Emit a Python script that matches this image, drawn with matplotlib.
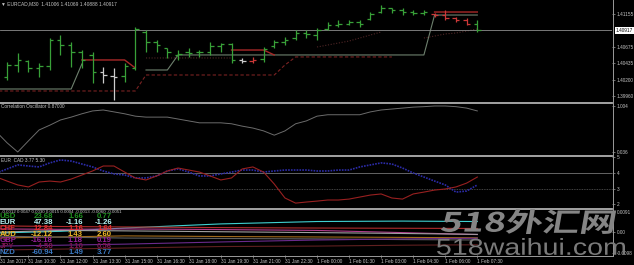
import numpy as np
import matplotlib
matplotlib.use('Agg')
import matplotlib.pyplot as plt
from matplotlib.lines import Line2D
from matplotlib.textpath import TextPath
from matplotlib.patches import PathPatch
from matplotlib.font_manager import FontProperties
from matplotlib.transforms import Affine2D, blended_transform_factory

plt.rcParams['font.family'] = ['Liberation Sans', 'DejaVu Sans']

# -- data (EURCAD M30) -- #
nan = np.nan
opens  = [1.40237, 1.40412, 1.40470, 1.40368, 1.40397, 1.40776, 1.40703, 1.40601, 1.40558, 1.40310,
          1.40252, 1.40252, 1.40368, 1.40893, 1.40747, 1.40660, 1.40558, 1.40601, 1.40601, 1.40601,
          1.40689, 1.40718, 1.40485, 1.40470, 1.40499, 1.40689, 1.40747, 1.40805, 1.40878, 1.40849,
          1.40937, 1.40995, 1.41009, 1.41038, 1.41082, 1.41184, 1.41242, 1.41213, 1.41184, 1.41170,
          1.41155, 1.41140, 1.41097, 1.41068, 1.41006]
highs  = [1.40456, 1.40587, 1.40485, 1.40441, 1.40805, 1.40849, 1.40747, 1.40630, 1.40601, 1.40383,
          1.40368, 1.40441, 1.40966, 1.40922, 1.40776, 1.40660, 1.40630, 1.40660, 1.40630, 1.40747,
          1.40732, 1.40732, 1.40514, 1.40529, 1.40674, 1.40776, 1.40820, 1.40922, 1.40922, 1.40951,
          1.41038, 1.41068, 1.41068, 1.41068, 1.41184, 1.41286, 1.41242, 1.41242, 1.41213, 1.41213,
          1.41170, 1.41213, 1.41111, 1.41097, 1.41069]
lows   = [1.40193, 1.40310, 1.40310, 1.40237, 1.40339, 1.40558, 1.40383, 1.40368, 1.40150, 1.40150,
          1.39902, 1.40164, 1.40339, 1.40601, 1.40601, 1.40514, 1.40485, 1.40529, 1.40529, 1.40558,
          1.40601, 1.40441, 1.40441, 1.40441, 1.40456, 1.40660, 1.40703, 1.40776, 1.40805, 1.40776,
          1.40922, 1.40966, 1.40995, 1.40966, 1.41068, 1.41170, 1.41170, 1.41140, 1.41140, 1.41140,
          1.41111, 1.41068, 1.41038, 1.40995, 1.40888]
closes = [1.40412, 1.40485, 1.40368, 1.40397, 1.40776, 1.40703, 1.40601, 1.40485, 1.40310, 1.40266,
          1.40237, 1.40397, 1.40937, 1.40747, 1.40703, 1.40601, 1.40572, 1.40587, 1.40601, 1.40689,
          1.40718, 1.40485, 1.40470, 1.40485, 1.40645, 1.40747, 1.40776, 1.40878, 1.40864, 1.40922,
          1.40995, 1.41009, 1.41038, 1.41009, 1.41155, 1.41242, 1.41213, 1.41184, 1.41170, 1.41184,
          1.41140, 1.41097, 1.41068, 1.41009, 1.40917]
bar_color = ['g'] * 9 + ['w', 'w'] + ['g'] * 11 + ['w', 'r'] + ['g'] * 16 + ['r', 'r', 'r', 'r', 'g']
bid = 1.40917

# indicator lines, bars -1..44
line_idx = list(range(-1, 45))
support = [1.40062] * 8 + [1.40427] + [nan] * 5 + [1.40339] * 3 + [1.40558] * 24 + [1.41140] * 5
resist  = [nan] * 8 + [1.40485] * 5 + [1.40368] + [nan] * 8 + [1.40630] * 4 + [1.40558] + [nan] * 14 + [1.41184] * 5
band_lo = [1.40033] * 14 + [1.40266] * 13 + [1.40412] + [1.40529] * 10 + [nan] * 8
band_dot = ([nan] * 14 + [1.40514] * 9 + [nan] * 7 +
            [1.40674, 1.40703, 1.40732, 1.40761, 1.40805, 1.40849, 1.40893] + [nan] * 3 +
            [1.40805, 1.40834, 1.40864, 1.40878, 1.40907, 1.40937])

corr = [0.46, 0.23, 0.036, 0.27, 0.50, 0.60, 0.71, 0.77, 0.84, 0.90, 0.92, 0.88, 0.84, 0.79, 0.77, 0.77,
        0.77, 0.73, 0.69, 0.65, 0.65, 0.65, 0.63, 0.58, 0.54, 0.48, 0.39, 0.48, 0.63, 0.69, 0.79, 0.82,
        0.82, 0.82, 0.82, 0.88, 0.92, 0.94, 0.96, 0.98, 0.99, 1.004, 1.004, 0.99, 0.96, 0.90]

eur_str = [4.00, 4.26, 4.52, 4.45, 4.39, 4.65, 4.84, 4.77, 4.58, 4.39, 4.13, 3.94, 3.87, 3.68, 3.68, 3.81,
           4.13, 4.26, 4.06, 3.81, 3.81, 3.94, 4.06, 4.19, 4.19, 4.06, 4.13, 4.19, 4.19, 4.19, 4.13, 4.13,
           4.19, 4.19, 4.39, 4.52, 4.65, 4.58, 4.32, 4.00, 3.74, 3.48, 3.23, 2.77, 2.84, 3.23]
cad_str = [3.74, 3.48, 3.23, 3.10, 3.42, 3.48, 3.42, 3.61, 3.87, 4.13, 4.45, 4.45, 4.06, 3.68, 3.55, 3.81,
           4.13, 4.32, 4.19, 4.06, 3.81, 3.55, 3.68, 4.26, 4.39, 4.06, 3.29, 2.39, 2.06, 2.13, 2.19, 2.26,
           2.26, 2.32, 2.45, 2.58, 2.65, 2.39, 2.32, 2.65, 2.77, 2.90, 2.97, 3.10, 3.35, 3.74]

# bottom panel (currency change lines)
bot_idx = [-1, 5, 11, 20, 29, 37, 44]
cur_lines = {
    '#3fd0d0': [-0.0006, 0.0002, 0.0017, 0.0036, 0.0047, 0.0049, 0.0047],
    '#b02c2c': [0.0027, 0.0024, 0.0022, 0.0019, 0.0017, 0.0016, 0.0015],
    '#b03a8c': [0.0013, 0.0011, 0.0013, 0.0010, 0.0006, -0.0004, -0.0013],
    '#a0a0a0': [-0.0002, 0.0006, 0.0004, 0.0000, -0.0004, -0.0008, -0.0012],
    '#a06a1c': [-0.0029, -0.0024, -0.0019, -0.0022, -0.0024, -0.0026, -0.0028],
    '#606060': [-0.0020, -0.0025, -0.0029, -0.0031, -0.0033, -0.0036, -0.0038],
    '#6a2a8c': [-0.0066, -0.0062, -0.0057, -0.0047, -0.0038, -0.0033, -0.0030],
    '#602020': [-0.0084, -0.0080, -0.0075, -0.0068, -0.0066, -0.0062, -0.0060],
}
cur_header = '-0.0012 0.0047 0.0030 0.0015 0.0004 -0.0013 -0.0060 -0.0051'
tab_names = ['USD', 'EUR', 'CHF', 'AUD', 'GBP', 'JPY', 'NZD']
tab_c1 = ['23.68', '47.38', '12.84', '-12.12', '-16.18', '-4.58', '-60.94']
tab_c2 = ['1.66', '-1.16', '1.16', '1.43', '1.18', '1.10', '1.49']
tab_c3 = ['0.77', '-1.26', '1.64', '2.60', '0.19', '0.56', '3.77']
tab_colors = ['#1f8f1f', '#b8f4f4', '#e03030', '#f0b828', '#9a209a', '#7a1450', '#3a78c0']

time_idx = [2, 5, 8, 11, 14, 17, 20, 23, 26, 29, 32, 35, 38, 41, 44]
time_labels = ['31 Jan 10:30', '31 Jan 12:00', '31 Jan 13:30', '31 Jan 15:00', '31 Jan 16:30',
               '31 Jan 18:00', '31 Jan 19:30', '31 Jan 21:00', '31 Jan 22:30', '1 Feb 00:00',
               '1 Feb 01:30', '1 Feb 03:00', '1 Feb 04:30', '1 Feb 06:00', '1 Feb 07:30']

# -- figure layout (pixel based) -- #
W, H, DPI = 634, 265, 100
fig = plt.figure(figsize=(W / DPI, H / DPI), dpi=DPI, facecolor='black')
TXT = '#c4c4c4'

def box(x0, y0, x1, y1):
    return [x0 / W, 1 - y1 / H, (x1 - x0) / W, (y1 - y0) / H]

def ftext(x, y, s, **kw):
    kw.setdefault('va', 'center')
    return fig.text(x / W, 1 - y / H, s, **kw)

def fline(x0, y0, x1, y1, **kw):
    fig.add_artist(Line2D([x0 / W, x1 / W], [1 - y0 / H, 1 - y1 / H], transform=fig.transFigure, **kw))

ax1 = fig.add_axes(box(0, 0, 612, 101))
ax2 = fig.add_axes(box(0, 104, 612, 154))
ax3 = fig.add_axes(box(0, 157, 612, 207))
ax4 = fig.add_axes(box(0, 210, 612, 255))

for ax in (ax1, ax2, ax3, ax4):
    ax.set_facecolor('black')
    ax.set_xlim(-0.66, 56.6)
    for s in ax.spines.values():
        s.set_visible(False)
    ax.yaxis.tick_right()
    ax.tick_params(axis='y', length=2, width=0.5, pad=1.5, colors='#9a9a9a', labelcolor=TXT, labelsize=3.4)
    ax.set_xticks([])

# main chart
x = np.arange(len(opens))
palette = {'g': '#38a038', 'w': '#cccccc', 'r': '#cc3838'}
cols = [palette[c] for c in bar_color]
ax1.plot(line_idx, support, color='#6e806e', lw=0.8)
ax1.plot(line_idx, resist, color='#a82828', lw=1.0)
ax1.plot(line_idx, band_lo, color='#7a2222', lw=0.8, dashes=(3, 2))
ax1.plot(line_idx, band_dot, color='#502626', lw=0.8, dashes=(1, 1.5))
ax1.axhline(bid, color='#8c8c8c', lw=0.6)
ax1.vlines(x, lows, highs, colors=cols, lw=0.9)
ax1.hlines(opens, x - 0.33, x, colors=cols, lw=0.9)
ax1.hlines(closes, x, x + 0.33, colors=cols, lw=0.9)
ax1.set_ylim(1.39887, 1.41359)
pticks = [1.41155, 1.40675, 1.40435, 1.40200, 1.39960]
ax1.set_yticks(pticks, ['%.5f' % p for p in pticks])
tr = blended_transform_factory(ax1.transAxes, ax1.transData)
ax1.text(1.006, bid, '%.5f' % bid, transform=tr, fontsize=3.4, color='black', va='center', ha='left',
         bbox=dict(facecolor='white', edgecolor='none', pad=0.5))
ftext(1, 4, '\u25bc EURCAD,M30  1.41006 1.41069 1.40888 1.40917', fontsize=3.5, color=TXT)

# correlation oscillator
ax2.plot(line_idx, corr, color='#6c6c6c', lw=0.7)
ax2.set_ylim(-0.006, 1.046)
ax2.set_yticks([1.004, 0.036], ['1.004', '0.036'])
ftext(1, 106, 'Correlation Oscillator 0.87000', fontsize=3.4, color=TXT)

# currency strength
ax3.axhline(4, color='#747474', lw=0.6)
ax3.axhline(3, color='#5a5a5a', lw=0.6, dashes=(1, 1))
ax3.plot(line_idx, eur_str, color='#2c2ca8', lw=1.2, dashes=(1, 0.7))
ax3.plot(line_idx, cad_str, color='#982020', lw=0.8)
ax3.set_ylim(1.81, 5.03)
ax3.set_yticks([5, 4, 3, 2], ['5', '4', '3', '2'])
ftext(1, 160, 'EUR  CAD 3.77 5.30', fontsize=3.4, color=TXT)

# currency change panel
for c, vals in cur_lines.items():
    ax4.plot(bot_idx, vals, color=c, lw=0.8)
ax4.set_ylim(-0.0107, 0.0100)
ax4.set_yticks([0.0091, 0.0, -0.0098], ['0.0091', '0.00', '-0.0098'])
ax4.set_xticks([-0.62] + time_idx, ['31 Jan 2017'] + time_labels)
ax4.tick_params(axis='x', length=2, width=0.5, pad=1, colors='#9a9a9a', labelcolor=TXT, labelsize=3.4)
for lab in ax4.get_xticklabels():
    lab.set_ha('left')
ftext(1, 212, cur_header, fontsize=3.2, color=TXT)
row_y = [216, 222, 228, 234, 240, 246, 252]
for n, a, b, c, col, yy in zip(tab_names, tab_c1, tab_c2, tab_c3, tab_colors, row_y):
    ftext(0, yy, n, fontsize=5.6, fontweight='bold', color=col, ha='left')
    ftext(53, yy, a, fontsize=5.6, fontweight='bold', color=col, ha='right')
    ftext(83, yy, b, fontsize=5.6, fontweight='bold', color=col, ha='right')
    ftext(112, yy, c, fontsize=5.6, fontweight='bold', color=col, ha='right')

# separators / frame
for yy in (102.5, 155.5, 208.5):
    fline(0, yy, 612, yy, color='#b0b0b0', lw=1.3)
fline(0, 255.5, 612, 255.5, color='#9a9a9a', lw=0.7)
fline(612.5, 0, 612.5, 256, color='#9a9a9a', lw=0.7)

# watermark
def stamp(text, x0, y0, x1, y1, fp, color, slant=0.0):
    tp = TextPath((0, 0), text, size=10, prop=fp)
    bb = tp.get_extents()
    t = (Affine2D().translate(-bb.x0, -bb.y0)
         .scale((x1 - x0) / bb.width, (y1 - y0) / bb.height)
         .skew_deg(slant, 0)
         .translate(x0, H - y1)
         .scale(1 / DPI) + fig.dpi_scale_trans)
    fig.add_artist(PathPatch(tp, transform=t, facecolor=color, edgecolor='none', zorder=5))

stamp('518外汇网', 440, 209, 612, 234, FontProperties(family='Noto Sans CJK SC', weight='bold'), '#858585', slant=10)
stamp('518waihui.com', 437, 238, 625, 255, FontProperties(family='Liberation Sans'), '#7a7a7a')

fig.savefig('out.png', dpi=DPI, facecolor='black')
